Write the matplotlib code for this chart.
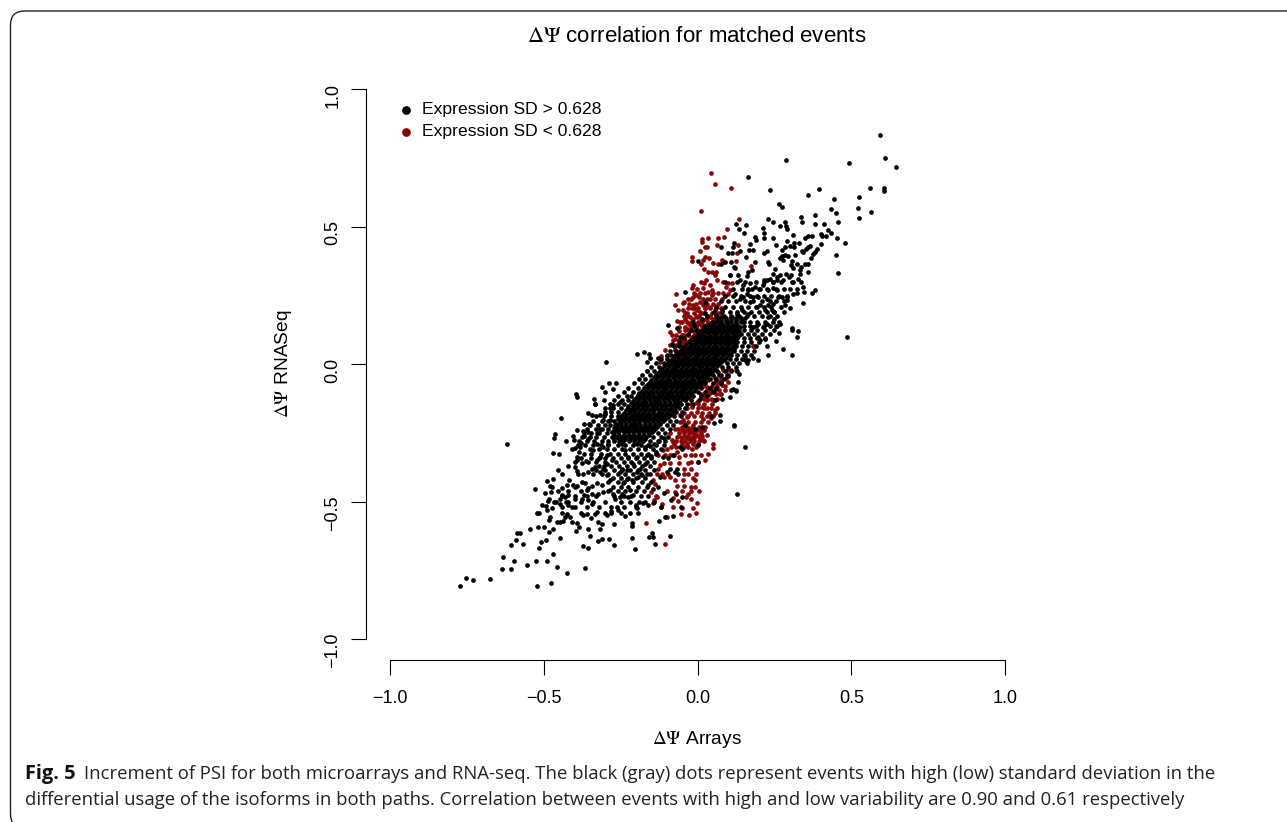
import matplotlib
matplotlib.use("Agg")
import matplotlib.pyplot as plt
from matplotlib.patches import FancyBboxPatch
from matplotlib.transforms import IdentityTransform

plt.rcParams['font.family'] = ['Liberation Sans', 'DejaVu Sans']
plt.rcParams['mathtext.fontset'] = 'stix'

# upper right arm, high SD
upper_x = [.593,.289,.494,.610,.644,.164,.235,.358,.396,.562,.607,.607,.444,.526,.264,.275,.434,.449,.523,.563,.525,.382,.337,.339,.382,.410,.456,.228,.247,.283,.288,.269,.291,.126,.157,.135,.212,.217,.152,.425,.435,.417,.401,.405,.455,.309,.247,.371,.359,.350,.187,.189,.216,.480,.401,.292,.285,.274,.255,.314,.330,.315,.300,.366,.360,.352,.340,.344,.390,.382,.375,.368,.450,.317,.286,.274,.268,.277,.294,.119,.115,.171,.169,.179,.076,.098,.111,.137,.227,.215,.158,.187,.228,.233,.076,.091,.108,.001,.119,.123,.176,.252,.307,.303,.322,.309,.350,.358,.338,.334,.360,.458,.288,.305,.333,.328,.299,.106,.133,.165,.160,.247,.257,.268,.216,.227,.236,.247,.257,.279,.306,.344,.346,.383,.371,.322,.312,.344,.290,.292,.302,.285,.257,.247,.230,.214,.203,.187,.171,.176,.165,.149,.138,.122,.138,.149,.160,.182,.198,.230,.247,.263,.274,.225,.171,.192,.203,.220,.241,.250,.230,.250,.268,.255,.306,.308,.326,.266,.325,.254,.485,.227,.279,.308,.230,.198,.203,.220,.182,.198,.214,.225,.165,.144,.127,.111,.095,.079,.062,.051,.024,.024,.014,-.014,-.041,-.095,-.068,-.005,-.084,-.057]
upper_y = [.835,.742,.733,.749,.718,.682,.636,.616,.638,.643,.641,.632,.603,.607,.584,.573,.565,.550,.567,.553,.534,.545,.537,.516,.512,.510,.519,.529,.518,.517,.505,.503,.494,.512,.507,.494,.496,.479,.479,.487,.477,.468,.474,.468,.461,.470,.461,.468,.467,.461,.462,.454,.459,.443,.438,.449,.427,.415,.433,.443,.440,.427,.431,.432,.425,.421,.413,.408,.420,.410,.400,.388,.399,.398,.397,.394,.387,.379,.393,.442,.427,.437,.417,.417,.427,.406,.405,.412,.412,.405,.392,.371,.372,.365,.366,.372,.372,.376,.354,.349,.342,.348,.376,.363,.366,.351,.364,.364,.354,.342,.336,.332,.330,.326,.330,.312,.318,.324,.324,.336,.320,.330,.318,.324,.308,.308,.312,.300,.306,.308,.300,.281,.263,.269,.260,.260,.257,.224,.245,.233,.203,.215,.272,.278,.269,.288,.275,.281,.294,.275,.269,.288,.306,.257,.239,.245,.257,.245,.245,.217,.221,.245,.245,.239,.227,.209,.215,.197,.197,.190,.172,.163,.148,.138,.133,.124,.121,.112,.099,.085,.098,.067,.056,.034,.035,.099,.087,.093,.136,.148,.136,.148,.184,.197,.184,.172,.154,.197,.172,.148,.227,.187,.163,.154,.262,.143,.133,.124,.075,.099]

# lower left arm, high SD
lower_x = [-.772,-.753,-.729,-.674,-.523,-.476,-.424,-.366,-.457,-.636,-.608,-.553,-.597,-.524,-.489,-.469,-.631,-.517,-.605,-.569,-.589,-.509,-.494,-.446,-.371,-.357,-.325,-.309,-.287,-.270,-.213,-.202,-.351,-.396,-.385,-.357,-.316,-.312,-.272,-.213,-.213,-.545,-.518,-.499,-.469,-.482,-.588,-.577,-.621,-.528,-.489,-.470,-.455,-.469,-.450,-.443,-.463,-.466,-.428,-.368,-.352,-.355,-.344,-.391,-.371,-.355,-.406,-.402,-.369,-.355,-.409,-.398,-.378,-.382,-.384,-.393,-.391,-.377,-.363,-.355,-.398,-.393,-.388,-.371,-.355,-.344,-.333,-.425,-.417,-.442,-.453,-.480,-.474,-.496,-.478,-.482,-.485,-.466,-.442,-.447,-.431,-.420,-.428,-.447,-.420,-.409,-.398,-.377,-.368,-.355,-.344,-.328,-.333,-.425,-.431,-.415,-.409,-.393,-.371,-.360,-.347,-.480,-.483,-.474,-.507,-.493,-.488,-.523,-.516,-.458,-.447,-.436,-.295,-.282,-.263,-.257,-.236,-.198,-.192,-.201,-.322,-.404,-.393,-.377,-.366,-.355,-.344,-.328,-.312,-.306,-.322,-.344,-.360,-.285,-.274,-.268,-.252,-.247,-.220,-.209,-.225,-.241,-.230,-.214,-.252,-.247,-.230,-.198,-.192,-.295,-.285,-.317,-.306,-.295,-.328,-.317,-.295,-.279,-.339,-.328,-.306,-.290,-.328,-.317,-.306,-.301,-.317,-.285,-.274,-.252,-.333,-.285,-.268,-.279,-.263,-.247,-.236,-.225,-.209,-.198,-.230,-.214,-.198,-.209,-.192,-.214]
lower_y = [-.806,-.778,-.785,-.781,-.806,-.795,-.761,-.740,-.739,-.747,-.747,-.730,-.717,-.716,-.715,-.692,-.702,-.668,-.659,-.656,-.641,-.647,-.638,-.632,-.663,-.670,-.644,-.635,-.637,-.659,-.631,-.673,-.626,-.607,-.593,-.598,-.601,-.582,-.581,-.577,-.590,-.598,-.591,-.592,-.599,-.610,-.616,-.614,-.291,-.453,-.426,-.419,-.386,-.324,-.326,-.194,-.254,-.268,-.281,-.217,-.218,-.176,-.183,-.241,-.244,-.246,-.261,-.274,-.262,-.271,-.307,-.305,-.286,-.301,-.319,-.337,-.347,-.359,-.353,-.355,-.374,-.388,-.400,-.400,-.392,-.380,-.374,-.440,-.422,-.449,-.461,-.444,-.446,-.468,-.465,-.489,-.499,-.501,-.477,-.489,-.483,-.477,-.501,-.510,-.513,-.519,-.489,-.489,-.477,-.495,-.507,-.537,-.544,-.544,-.556,-.556,-.574,-.576,-.550,-.544,-.558,-.556,-.568,-.525,-.513,-.517,-.531,-.540,-.541,-.574,-.574,-.570,-.547,-.534,-.519,-.531,-.553,-.525,-.541,-.511,-.574,-.440,-.444,-.428,-.434,-.449,-.444,-.434,-.440,-.465,-.471,-.471,-.459,-.459,-.471,-.489,-.483,-.471,-.459,-.477,-.483,-.434,-.416,-.422,-.392,-.380,-.386,-.392,-.410,-.404,-.422,-.392,-.380,-.362,-.349,-.337,-.331,-.349,-.313,-.289,-.301,-.289,-.252,-.234,-.204,-.180,-.186,-.161,-.149,-.137,-.146,-.204,-.222,-.246,-.264,-.289,-.313,-.337,-.362,-.337,-.240,-.264,-.289,-.216,-.192,-.167]

# the rest of the high SD points around the centre
centre_x = [-.296,-.198,-.174,-.157,-.127,-.154,-.163,-.396,-.393,-.335,-.333,-.305,-.312,-.289,-.266,-.274,-.301,-.157,-.149,-.144,-.137,-.089,-.125,-.106,-.079,-.055,-.086,-.070,-.051,.001,.003,-.008,.014,-.041,-.051,-.057,-.111,-.095,-.079,-.068,-.089,-.073,-.062,-.122,-.100,.127,.156,.119,.073,.054,.043,.073,.057,.081,.106,.109,.117,.125,.133,.135,.100,.071,.154,.165,.182,.198,-.165,-.182,-.171,-.187,-.165,-.150,-.135,-.172,-.155,-.140,-.125,-.110,-.160,-.145,-.128,-.108,-.178,-.160,-.142,-.120]
centre_y = [.007,.038,.045,.039,.022,.021,.008,-.107,-.119,-.125,-.143,-.131,-.084,-.067,-.067,-.089,-.101,-.628,-.616,-.628,-.654,-.626,-.572,-.556,-.551,-.519,-.495,-.471,-.483,-.355,-.295,-.234,-.228,-.222,-.307,-.301,-.337,-.343,-.331,-.380,-.380,-.392,-.398,-.410,-.392,-.471,-.300,-.222,-.206,-.214,-.189,-.186,-.131,-.125,-.119,-.095,-.089,-.097,-.064,-.034,-.044,-.040,.015,.015,.021,.015,-.398,-.404,-.362,-.380,-.330,-.335,-.320,-.300,-.298,-.290,-.280,-.270,-.440,-.455,-.448,-.470,-.505,-.512,-.500,-.520]

# dense core of the high SD cloud, read row by row
core_rows = [
    (-.280, [-.272,-.254,-.241,-.223,-.208,-.191,-.176]),
    (-.272, [-.270,-.250,-.235,-.219,-.204,-.186,-.172]),
    (-.264, [-.278,-.262,-.245,-.231,-.214,-.198,-.183,-.166]),
    (-.256, [-.270,-.254,-.238,-.222,-.206,-.190,-.174,-.158]),
    (-.248, [-.272,-.257,-.240,-.226,-.210,-.193,-.178,-.161,-.148]),
    (-.240, [-.265,-.250,-.234,-.218,-.202,-.186,-.170,-.155,-.140]),
    (-.232, [-.272,-.258,-.243,-.227,-.210,-.196,-.180,-.163,-.149,-.134]),
    (-.224, [-.266,-.250,-.235,-.219,-.203,-.188,-.172,-.157,-.141,-.127]),
    (-.216, [-.262,-.249,-.231,-.217,-.200,-.186,-.170,-.153,-.138,-.123]),
    (-.208, [-.252,-.238,-.222,-.206,-.191,-.175,-.160,-.144,-.128,-.113]),
    (-.200, [-.259,-.244,-.228,-.213,-.197,-.182,-.166,-.151,-.135,-.119,-.106]),
    (-.192, [-.252,-.236,-.221,-.205,-.190,-.174,-.159,-.143,-.128,-.112,-.097]),
    (-.184, [-.245,-.231,-.214,-.199,-.183,-.168,-.153,-.137,-.121,-.106,-.090]),
    (-.176, [-.238,-.223,-.207,-.192,-.176,-.161,-.145,-.130,-.114,-.099,-.084]),
    (-.168, [-.233,-.219,-.203,-.187,-.172,-.156,-.141,-.126,-.110,-.094,-.079]),
    (-.160, [-.226,-.211,-.196,-.180,-.165,-.149,-.134,-.118,-.103,-.087,-.072]),
    (-.152, [-.225,-.209,-.194,-.178,-.163,-.147,-.132,-.116,-.101,-.085,-.070]),
    (-.144, [-.217,-.202,-.186,-.171,-.155,-.140,-.124,-.109,-.093,-.078,-.062]),
    (-.136, [-.213,-.198,-.182,-.167,-.152,-.136,-.121,-.105,-.090,-.074,-.059]),
    (-.128, [-.205,-.190,-.174,-.159,-.143,-.128,-.112,-.097,-.081,-.066,-.050,-.036]),
    (-.120, [-.198,-.183,-.168,-.152,-.137,-.121,-.106,-.090,-.075,-.059,-.044,-.030]),
    (-.112, [-.192,-.177,-.161,-.146,-.130,-.115,-.099,-.084,-.068,-.053,-.037,-.022]),
    (-.104, [-.190,-.175,-.159,-.144,-.128,-.113,-.097,-.082,-.066,-.051,-.035,-.020]),
    (-.096, [-.182,-.167,-.151,-.136,-.120,-.105,-.089,-.074,-.058,-.043,-.027,-.012]),
    (-.088, [-.175,-.160,-.144,-.129,-.113,-.098,-.082,-.067,-.051,-.036,-.020,-.006]),
    (-.080, [-.168,-.152,-.137,-.121,-.106,-.090,-.075,-.059,-.044,-.028,-.013,.002]),
    (-.072, [-.160,-.146,-.130,-.115,-.099,-.084,-.068,-.053,-.037,-.022,-.006,.008]),
    (-.064, [-.155,-.139,-.124,-.108,-.093,-.077,-.062,-.046,-.031,-.015,.000,.015]),
    (-.056, [-.150,-.134,-.119,-.103,-.088,-.072,-.057,-.041,-.026,-.010,.005,.020]),
    (-.048, [-.142,-.127,-.111,-.096,-.080,-.065,-.049,-.034,-.018,-.003,.012,.027]),
    (-.040, [-.136,-.121,-.105,-.090,-.074,-.059,-.043,-.028,-.012,.003,.018,.033]),
    (-.032, [-.129,-.114,-.098,-.083,-.067,-.052,-.036,-.021,-.005,.010,.025,.040]),
    (-.024, [-.122,-.107,-.091,-.076,-.060,-.045,-.029,-.014,.002,.017,.032,.048]),
    (-.016, [-.115,-.100,-.084,-.069,-.053,-.038,-.022,-.007,.009,.024,.039,.055]),
    (-.008, [-.108,-.093,-.077,-.062,-.046,-.031,-.015,.000,.016,.031,.046,.062]),
    (.000, [-.100,-.085,-.069,-.054,-.038,-.023,-.007,.008,.024,.039,.054,.070]),
    (.008, [-.092,-.077,-.061,-.046,-.030,-.015,.001,.016,.032,.047,.062,.078]),
    (.016, [-.085,-.070,-.054,-.039,-.023,-.008,.008,.023,.039,.054,.069,.085]),
    (.024, [-.078,-.063,-.047,-.032,-.016,-.001,.015,.030,.046,.061,.076,.092]),
    (.032, [-.071,-.056,-.040,-.025,-.009,.006,.022,.037,.053,.068,.083,.098]),
    (.040, [-.064,-.049,-.033,-.018,-.002,.013,.029,.044,.060,.075,.090,.105]),
    (.048, [-.057,-.042,-.026,-.011,.005,.020,.036,.051,.067,.082,.097,.112]),
    (.056, [-.050,-.035,-.019,-.004,.012,.027,.043,.058,.074,.089,.104,.118]),
    (.064, [-.043,-.028,-.012,.003,.019,.034,.050,.065,.081,.096,.111]),
    (.072, [-.036,-.021,-.005,.010,.026,.041,.057,.072,.088,.103,.118]),
    (.080, [-.028,-.013,.002,.018,.033,.049,.064,.080,.095,.110,.126]),
    (.088, [-.020,-.005,.010,.026,.041,.057,.072,.088,.103,.118]),
    (.096, [-.012,.003,.018,.034,.049,.065,.080,.096,.111,.125]),
    (.104, [-.005,.010,.026,.041,.057,.072,.088,.103,.118,.132]),
    (.112, [.003,.019,.034,.050,.065,.081,.096,.112,.126]),
    (.120, [.012,.027,.043,.058,.074,.089,.105,.120,.134]),
    (.128, [.020,.036,.051,.067,.082,.098,.113,.129]),
    (.136, [.030,.045,.061,.076,.092,.107,.122,.138]),
    (.144, [.038,.053,.069,.084,.100,.115,.130]),
    (.152, [.047,.062,.078,.093,.109,.124,.140]),
    (.160, [.062,.078,.093,.109,.124,.140]),
    (.168, [.078,.093,.109,.124,.140,.155]),
]

# looser high SD points on both flanks of the core
flank_rows = [
    (.300, [.09,.13,.155,.19,.215,.245,.27,.31,.335]),
    (.275, [.115,.145,.165,.2,.225,.255,.28,.3,.325]),
    (.250, [.09,.115,.14,.17,.195,.215,.24,.265,.29]),
    (.230, [.075,.1,.125,.155,.18,.21,.235,.255,.28]),
    (.210, [.06,.09,.115,.14,.165,.19,.215,.24,.27]),
    (.190, [.055,.08,.105,.13,.15,.175,.2,.225,.25,.28]),
    (.175, [.03,.06,.085,.11,.135,.16,.185,.21,.235,.26]),
    (.155, [.15,.17,.195,.22,.245,.265]),
    (.140, [-.01,.02,.15,.17,.19,.215,.235,.26]),
    (.125, [-.02,.15,.175,.195,.22,.25]),
    (.110, [-.03,.14,.165,.185,.21,.235]),
    (.095, [-.045,.13,.15,.17,.195,.22]),
    (.080, [-.06,.13,.15,.175,.2]),
    (.065, [-.075,-.06,.125,.145,.165,.19]),
    (.050, [-.09,-.07,.12,.14,.16,.185]),
    (.035, [-.1,-.085,.11,.13,.15,.175]),
    (.020, [-.12,-.1,.105,.125,.145]),
    (.005, [-.135,-.11,.095,.115,.135,.16]),
    (-.010, [-.15,-.125,.08,.1,.125]),
    (-.025, [-.165,-.14,.065,.09,.11,.13]),
    (-.040, [-.18,-.155,.05,.075,.095]),
    (-.055, [-.19,-.17,.04,.06,.085]),
    (-.070, [-.205,-.18,.025,.05,.075]),
    (-.085, [-.225,-.195,.01,.04,.06]),
    (-.100, [-.24,-.21,.0,.025,.05]),
    (-.115, [-.26,-.23,-.215,-.015,.01,.03]),
    (-.130, [-.27,-.245,-.225,-.04,-.02,.005]),
    (-.145, [-.285,-.26,-.24,-.055,-.035,-.015]),
    (-.160, [-.3,-.275,-.25,-.06,-.04]),
    (-.175, [-.3,-.28,-.26,-.07,-.05]),
    (-.190, [-.33,-.305,-.28,-.26,-.075,-.055]),
    (-.205, [-.34,-.31,-.29,-.27,-.09,-.07]),
    (-.220, [-.35,-.325,-.3,-.285,-.1,-.08]),
    (-.235, [-.36,-.33,-.31,-.29,-.115,-.09]),
    (-.250, [-.37,-.345,-.32,-.295,-.13,-.105]),
    (-.265, [-.375,-.35,-.33,-.305,-.145,-.12,-.095]),
    (-.280, [-.385,-.36,-.335,-.31,-.29,-.155,-.13,-.105]),
    (-.295, [-.39,-.365,-.34,-.315,-.29,-.26,-.235,-.21,-.185,-.16,-.135,-.11]),
    (-.310, [-.35,-.32,-.295,-.27,-.245,-.22,-.195,-.17,-.145,-.12]),
    (-.325, [-.37,-.345,-.315,-.285,-.26,-.235,-.21,-.185,-.16,-.135]),
    (-.340, [-.38,-.345,-.32,-.3,-.275,-.25,-.225,-.2,-.175,-.15]),
    (-.355, [-.4,-.33,-.3,-.265,-.24,-.215,-.19,-.165,-.14]),
    (-.370, [-.42,-.32,-.305,-.28,-.255,-.23,-.205,-.18,-.155]),
    (-.385, [-.33,-.3,-.27,-.245,-.22,-.195,-.17,-.14]),
    (-.400, [-.44,-.34,-.31,-.29,-.26,-.235,-.21,-.185,-.155]),
    (-.415, [-.275,-.25,-.225,-.2,-.17]),
    (-.430, [-.29,-.26,-.24,-.21,-.18,-.15]),
    (-.445, [-.4,-.275,-.25,-.225,-.195,-.165]),
    (-.460, [-.42,-.38,-.29,-.26,-.235,-.2,-.175]),
    (-.480, [-.44,-.4,-.36,-.33,-.27,-.24,-.215,-.185,-.16]),
    (-.500, [-.46,-.42,-.38,-.34,-.3,-.25,-.22,-.19,-.17]),
    (-.520, [-.44,-.4,-.36,-.32,-.28,-.24,-.2]),
    (-.540, [-.44,-.38,-.3,-.28,-.25,-.22]),
]

# low SD points, upper part
red_up_x = [.045,.057,.109,.012,.135,.097,.015,.035,.066,.087,.016,.064,.024,.032,.008,.133,.127,-.018,-.019,.024,.038,.019,.012,.051,.068,.079,.084,.124,.021,.033,.048,.060,.057,.062,.028,.010,.022,.106,.174,-.014,-.017,.017,-.003,.041,.048,.084,.100,.111,.092,.106,-.069,-.005,-.014,.006,.035,.046,.030,.100,-.046,-.073,-.043,.019,-.014,.008,-.003,-.048,-.041,-.062,.008,-.019,.024,.041,-.068,-.057,-.024,-.003,.030,.057,.041,.019,-.035,-.041,-.003,.019,-.003,-.089,-.084,-.073,-.051,-.030,-.051,-.019,-.106,.003,-.014,.182,.154,-.041,-.073,-.057,-.073]
red_up_y = [.696,.656,.641,.559,.528,.491,.457,.461,.459,.462,.445,.433,.426,.426,.414,.434,.406,.391,.377,.391,.388,.381,.364,.370,.366,.379,.372,.376,.346,.334,.336,.336,.324,.308,.306,.300,.296,.324,.358,.288,.278,.278,.275,.288,.269,.300,.294,.294,.281,.269,.255,.251,.243,.245,.263,.251,.239,.257,.223,.214,.227,.215,.215,.227,.197,.197,.187,.199,.190,.203,.203,.209,.157,.155,.172,.172,.172,.197,.172,.160,.127,.124,.148,.124,.130,.118,.106,.093,.106,.106,.087,.099,.051,.106,.087,.066,.027,.051,.051,.039,.033]

# low SD points, lower part
red_lo_x = [-.106,-.167,-.146,-.141,-.133,-.114,-.119,-.135,-.152,-.138,-.144,-.108,-.089,-.073,-.068,-.044,-.021,-.008,.006,-.008,-.014,-.003,-.030,-.037,-.022,-.079,-.064,-.079,-.051,-.054,-.028,-.014,-.006,-.100,-.073,-.046,-.044,-.022,-.021,.001,.023,.034,-.008,-.059,-.068,-.122,-.127,-.133,-.127,-.111,-.079,-.068,-.089,-.062,-.046,-.035,-.057,-.019,-.003,-.019,.008,.019,.030,.049,.051,.003,-.019,.043,.057,.051,.057,.073,.079,.071,.030,.035,.019,.046,.068,.100,.120,.124,.154,.184,-.041,-.051,-.019,-.073,-.122,-.165,-.035,-.019,-.003,.014,.030,-.030,-.014,-.008,.003,-.041,-.073,-.084,-.100,-.106,.024,.008,-.003,.041,.030,.019,-.057]
red_lo_y = [-.654,-.579,-.505,-.495,-.483,-.510,-.519,-.479,-.465,-.437,-.422,-.412,-.410,-.422,-.443,-.443,-.447,-.447,-.462,-.420,-.414,-.505,-.474,-.483,-.489,-.487,-.498,-.519,-.525,-.544,-.547,-.525,-.540,-.556,-.465,-.422,-.380,-.380,-.355,-.355,-.347,-.328,-.329,-.337,-.319,-.365,-.380,-.398,-.331,-.313,-.283,-.265,-.252,-.234,-.204,-.192,-.186,-.246,-.258,-.271,-.271,-.277,-.258,-.289,-.305,-.289,-.307,-.194,-.167,-.129,-.095,-.107,-.076,-.064,-.083,-.058,-.046,-.034,-.028,-.040,-.226,-.095,.033,.066,.027,.081,.069,.051,.008,-.024,-.161,-.155,-.173,-.155,-.161,-.234,-.222,-.240,-.240,-.240,-.234,-.277,-.307,-.331,-.113,-.125,-.137,-.101,-.131,-.198,-.210]

# tight patches of low SD points between the loose ones
red_rows = [
    (.260, [-.010,.008,.026,.052,.068,.084]),
    (.238, [-.030,-.020,.018,.040,.058,.080]),
    (.218, [-.028,-.004,.030,.050,.066]),
    (.205, [-.03,-.01,.0,.025,.04,.06,.075]),
    (.186, [-.034,-.012,.012,.020,.048,.066]),
    (.175, [-.045,-.03,-.005,.005,.03,.04,.06,.075]),
    (.166, [-.040,-.014,.010,.028,.052]),
    (.155, [-.05,-.035,-.02,.0,.015,.035,.055]),
    (.146, [-.028,-.014,.006,.030,.046]),
    (.135, [-.06,-.04,-.02,-.005,.015,.035,.05]),
    (.120, [-.060,-.024,-.010,.008,.026]),
    (.105, [-.07,-.045,-.03,-.01,.01]),
    (.090, [-.08,-.06,-.04,-.025]),
    (.070, [-.09,-.07,-.05]),
    (.030, [-.12,-.1,-.08]),
    (-.020, [.022,.040,.058,.082,.096,.11,.125]),
    (-.050, [.032,.056,.076,.092]),
    (-.065, [.06,.075,.1]),
    (-.080, [.018,.048,.064,.088]),
    (-.095, [.03,.045,.07,.09]),
    (-.110, [.012,.036,.060,.078]),
    (-.125, [.02,.045,.065]),
    (-.145, [-.020,.000,.022,.046]),
    (-.160, [.0,.02,.045,.065]),
    (-.178, [-.045,-.020,.016,.036,.056]),
    (-.190, [-.03,-.01,.01,.03,.05]),
    (-.210, [-.046,-.030,-.008,.010,.034]),
    (-.228, [-.050,-.034,-.018,.006,.026]),
    (-.240, [-.05,-.035,-.02,-.005,.01,.02]),
    (-.250, [-.060,-.044,-.028,-.010,.012]),
    (-.260, [-.06,-.045,-.03,-.015,.0,.015]),
    (-.268, [-.052,-.034,-.026,-.010]),
    (-.280, [-.07,-.055,-.04,-.025,-.01,.005,.02]),
    (-.290, [-.076,-.050,-.034,-.016]),
    (-.300, [-.085,-.07,-.045,-.03,-.005]),
    (-.330, [-.09,-.075,-.04,-.02,.01]),
    (-.360, [-.11,-.09,-.06,-.03]),
    (-.400, [-.115,-.095,-.045,-.03,-.005]),
    (-.460, [-.1,-.05,-.02]),
]

tick_values = [-1.0, -0.5, 0.0, 0.5, 1.0]
tick_labels = ['\u22121.0', '\u22120.5', '0.0', '0.5', '1.0']

black_x = upper_x + lower_x + centre_x
black_y = upper_y + lower_y + centre_y
for y, xs in core_rows + flank_rows:
    black_x = black_x + xs
    black_y = black_y + [y] * len(xs)

red_x = red_up_x + red_lo_x
red_y = red_up_y + red_lo_y
for y, xs in red_rows:
    red_x = red_x + xs
    red_y = red_y + [y] * len(xs)

W, H = 1287, 822
fig = plt.figure(figsize=(W / 100, H / 100), dpi=100)
ax = fig.add_axes([390 / W, 1 - 639 / H, 615 / W, 549.5 / H])
ax.patch.set_visible(False)

# red goes under the black cloud
ax.scatter(red_x, red_y, s=11.5, c='#870606', linewidths=0, clip_on=False, label='Expression SD < 0.628')
ax.scatter(black_x, black_y, s=11.5, c='black', linewidths=0, clip_on=False, label='Expression SD > 0.628')

ax.set_xlim(-1, 1)
ax.set_ylim(-1, 1)
ax.set_xticks(tick_values)
ax.set_xticklabels(tick_labels)
ax.set_yticks(tick_values)
ax.set_yticklabels(tick_labels, va='center')
ax.tick_params(axis='x', length=10.8, width=0.8, pad=11, labelsize=13)
ax.tick_params(axis='y', length=10.8, width=0.8, pad=7, labelsize=13, labelrotation=90)

for side in ['top', 'right']:
    ax.spines[side].set_visible(False)
ax.spines['left'].set_position(('outward', 17.3))
ax.spines['bottom'].set_position(('outward', 15.1))
ax.spines['left'].set_linewidth(0.8)
ax.spines['bottom'].set_linewidth(0.8)

handles, labels = ax.get_legend_handles_labels()
ax.legend(handles[::-1], labels[::-1], frameon=False, fontsize=12.6, markerscale=1.85,
          loc='upper left', bbox_to_anchor=(0.0, 0.99), borderaxespad=0, labelspacing=0.38,
          handlelength=1, handletextpad=0.43, scatterpoints=1)

fig.text(697 / W, 1 - 37 / H, r'$\Delta\Psi$ correlation for matched events', ha='center', va='center', fontsize=16)
fig.text(697 / W, 1 - 739 / H, r'$\Delta\Psi$ Arrays', ha='center', va='center', fontsize=13.8)
fig.text(283 / W, 1 - 364 / H, r'$\Delta\Psi$ RNASeq', ha='center', va='center', rotation=90, fontsize=13.8)

# panel border runs off the right and bottom of the page
border = FancyBboxPatch((10.5, -6), 1400, H - 11 + 6, boxstyle='round,pad=0,rounding_size=14',
                        fc='none', ec='#222222', lw=1.0, transform=IdentityTransform())
fig.add_artist(border)

cap_font = ['Open Sans', 'DejaVu Sans']
fig.text(25 / W, 1 - 779 / H, 'Fig. 5', fontsize=14.4, fontweight='bold', family=cap_font, color='#111111')
fig.text(84 / W, 1 - 779 / H, 'Increment of PSI for both microarrays and RNA-seq. The black (gray) dots represent events with high (low) standard deviation in the',
         fontsize=13.3, family=cap_font, color='#222222')
fig.text(25 / W, 1 - 805 / H, 'differential usage of the isoforms in both paths. Correlation between events with high and low variability are 0.90 and 0.61 respectively',
         fontsize=13.3, family=cap_font, color='#222222')

fig.savefig('out.png', dpi=100)
